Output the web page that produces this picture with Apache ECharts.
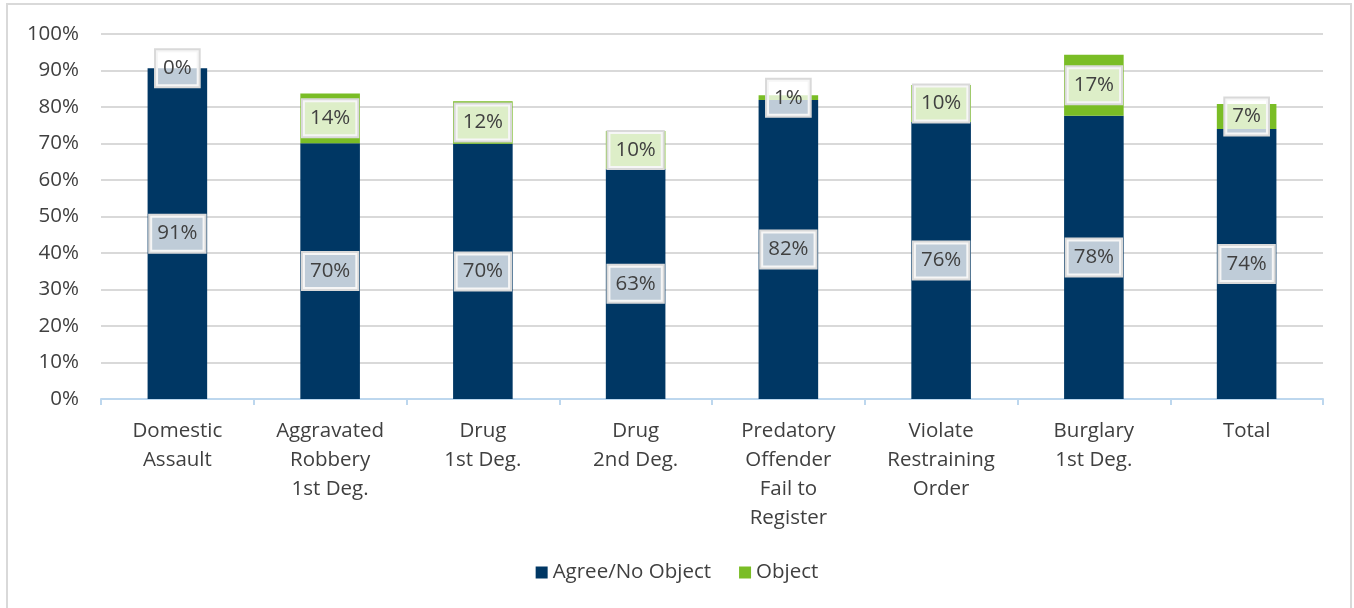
<!DOCTYPE html>
<html>
<head>
<meta charset="utf-8">
<script src="https://cdn.jsdelivr.net/npm/echarts@6/dist/echarts.min.js"></script>
<style>
html,body{margin:0;padding:0;background:#fff;}
#c{width:1354px;height:608px;}
</style>
</head>
<body>
<div id="c"></div>
<script>
const categories = ['Domestic\nAssault','Aggravated\nRobbery\n1st Deg.','Drug\n1st Deg.','Drug\n2nd Deg.','Predatory\nOffender\nFail to\nRegister','Violate\nRestraining\nOrder','Burglary\n1st Deg.','Total'];
const agreeValues = [90.6, 70.1, 69.9, 63.1, 81.9, 75.9, 77.6, 74.0];
const objectValues = [0, 13.6, 11.7, 10.3, 1.3, 10.1, 16.7, 6.8];
const seriesNames = ['Agree/No Object','Object'];

const FONT = 'Open Sans';
const FS = 20.5;
const labelStyle = {
  show: true,
  position: 'inside',
  formatter: p => Math.round(p.value) + '%',
  color: '#404040',
  fontFamily: FONT,
  fontSize: FS,
  lineHeight: 22,
  backgroundColor: 'rgba(255,255,255,0.75)',
  borderColor: '#d9d9d9',
  borderWidth: 2,
  padding: [8, 7, 6, 7]
};

const chart = echarts.init(document.getElementById('c'), null, {renderer: 'canvas'});
chart.setOption({
  animation: false,
  textStyle: {fontFamily: FONT},
  graphic: [{
    type: 'rect', silent: true, z: -10,
    shape: {x: 7, y: 4, width: 1344, height: 620},
    style: {fill: 'none', stroke: '#d9d9d9', lineWidth: 2}
  }],
  grid: {left: 101, right: 31, top: 34, bottom: 209, containLabel: false},
  legend: {
    bottom: 20,
    left: 'center',
    icon: 'rect',
    itemWidth: 12,
    itemHeight: 12,
    itemGap: 28,
    textStyle: {color: '#404040', fontSize: FS, fontFamily: FONT},
    data: seriesNames
  },
  xAxis: {
    type: 'category',
    data: categories,
    axisLine: {lineStyle: {color: '#bdd7ee', width: 2}},
    axisTick: {show: true, alignWithLabel: false, length: 6, lineStyle: {color: '#bdd7ee', width: 2}},
    axisLabel: {color: '#404040', fontSize: FS, fontFamily: FONT, lineHeight: 29, margin: 18, interval: 0}
  },
  yAxis: {
    type: 'value',
    min: 0, max: 100, interval: 10,
    axisLine: {show: false},
    axisTick: {show: false},
    axisLabel: {formatter: '{value}%', color: '#404040', fontSize: FS, fontFamily: FONT, margin: 22},
    splitLine: {lineStyle: {color: '#d9d9d9', width: 2}}
  },
  series: [
    {
      name: seriesNames[0], type: 'bar', stack: 'a', barWidth: '39%',
      data: agreeValues,
      itemStyle: {color: '#003764'},
      label: labelStyle
    },
    {
      name: seriesNames[1], type: 'bar', stack: 'a', barWidth: '39%',
      data: objectValues,
      itemStyle: {color: '#7abd26'},
      label: labelStyle,
      z: 3
    }
  ]
});
</script>
</body>
</html>
